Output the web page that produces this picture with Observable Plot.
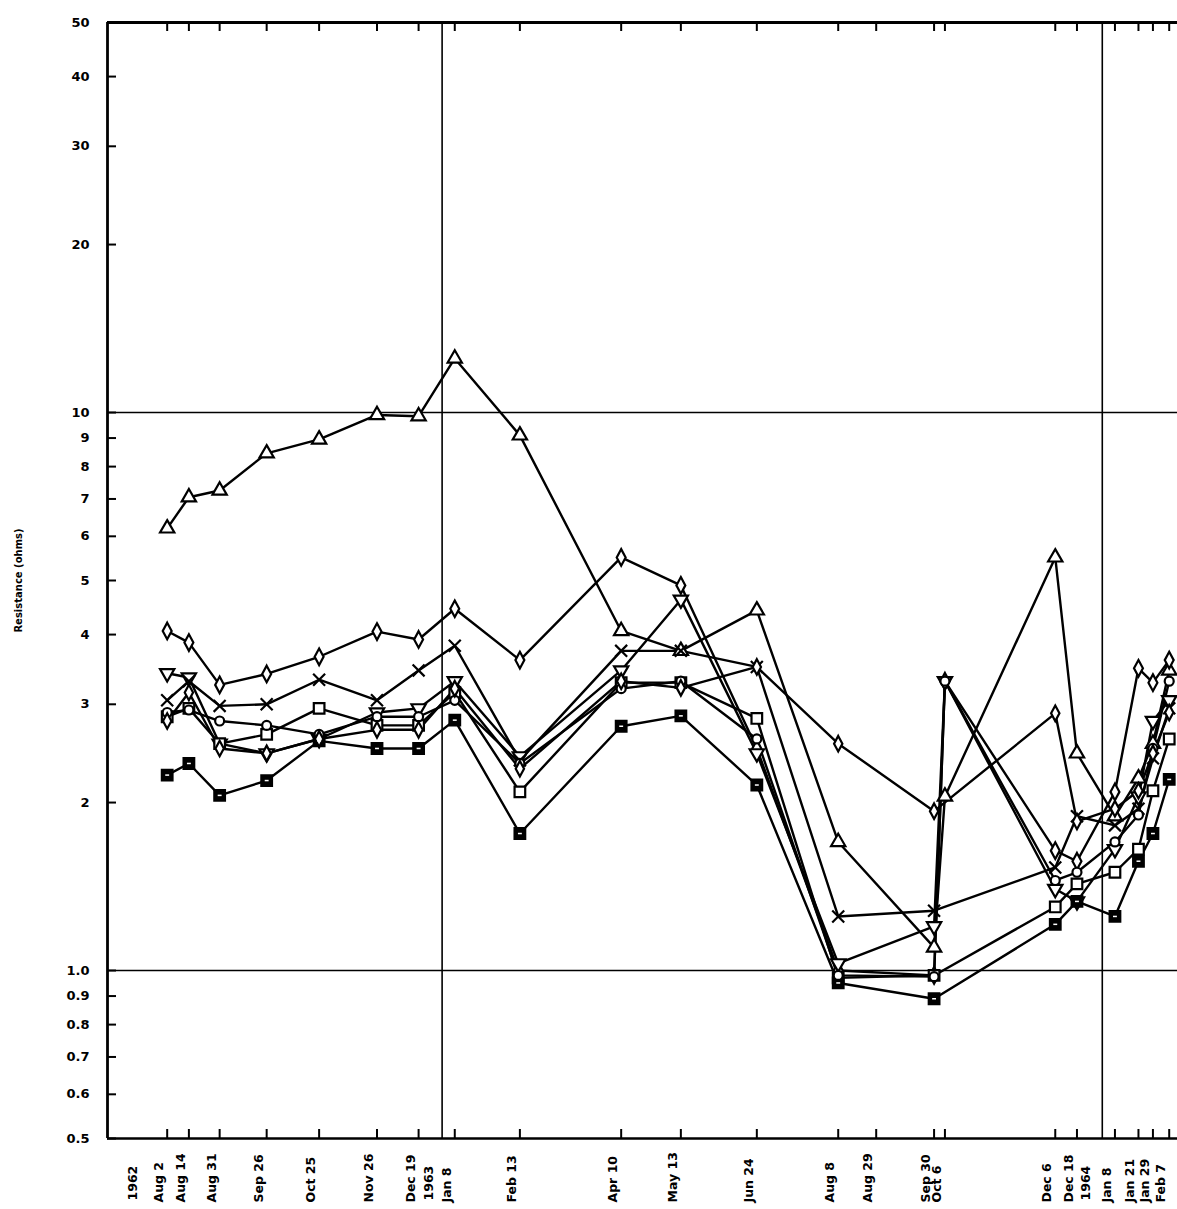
<!DOCTYPE html>
<html><head><meta charset="utf-8">
<script src="https://cdn.jsdelivr.net/npm/d3@7"></script>
<script src="https://cdn.jsdelivr.net/npm/@observablehq/plot@0.6"></script>
<style>
html,body{margin:0;padding:0;background:#fff;}
#chart svg{display:block;}
</style>
</head><body><div id="chart"></div>
<script>
// ---- data ----
const tickDates = ["1962-08-02","1962-08-14","1962-08-31","1962-09-26","1962-10-25","1962-11-26","1962-12-19",
  "1963-01-08","1963-02-13","1963-04-10","1963-05-13","1963-06-24","1963-08-08","1963-08-29","1963-09-30","1963-10-06",
  "1963-12-06","1963-12-18","1964-01-08","1964-01-21","1964-01-29","1964-02-07"];
const tickLabels = ["Aug 2","Aug 14","Aug 31","Sep 26","Oct 25","Nov 26","Dec 19","Jan 8","Feb 13","Apr 10","May 13",
  "Jun 24","Aug 8","Aug 29","Sep 30","Oct 6","Dec 6","Dec 18","Jan 8","Jan 21","Jan 29","Feb 7"];
const yearLabels = ["1962","1963","1964"];
const yearDates = ["1962-08-02","1963-01-01","1964-01-01"];
const yTicks = [0.5,0.6,0.7,0.8,0.9,1,2,3,4,5,6,7,8,9,10,20,30,40,50];
const refLinesY = [1, 10];
const refLinesX = ["1963-01-01","1964-01-01"];

// values per tick date (null = no reading)
const sTriUp   = [6.2,7.05,7.25,8.45,8.95,9.9,9.85,12.5,9.1,4.06,3.74,4.42,1.7,null,1.1,2.05,5.5,2.45,1.89,2.21,2.55,3.45];
const sDiamond = [4.06,3.87,3.25,3.4,3.65,4.05,3.92,4.45,3.6,5.5,4.9,2.5,1.0,null,0.98,3.3,1.64,1.57,2.09,3.48,3.28,3.6];
const sTriDown = [3.41,3.35,2.55,2.45,2.6,2.9,2.95,3.3,2.42,3.45,4.62,2.45,1.03,null,1.2,3.3,1.4,1.33,1.65,2.05,2.8,3.05];
const sCross   = [3.05,3.3,2.98,3.0,3.32,3.05,3.45,3.82,2.38,3.74,3.74,3.5,1.25,null,1.28,null,1.53,1.89,1.82,1.95,2.4,2.95];
const sSquare  = [2.85,2.95,2.55,2.65,2.95,2.75,2.75,3.15,2.09,3.28,3.28,2.83,0.97,null,0.98,null,1.3,1.43,1.5,1.65,2.1,2.6];
const sSqFill  = [2.24,2.35,2.06,2.19,2.58,2.5,2.5,2.81,1.76,2.74,2.86,2.15,0.95,null,0.89,null,1.21,1.33,1.25,1.57,1.76,2.2];
const sCircle  = [2.9,2.93,2.8,2.75,2.65,2.85,2.85,3.05,2.35,3.2,3.3,2.6,0.98,null,0.975,3.3,1.45,1.5,1.7,1.9,2.5,3.3];
const sDiam2   = [2.8,3.15,2.5,2.45,2.6,2.7,2.7,3.2,2.3,3.3,3.21,3.5,2.55,null,1.93,null,2.89,1.85,1.95,2.1,2.45,2.9];

// ---- symbols ----
const sq3 = Math.sqrt(3);
const triDown = {draw(ctx, size){ const y = -Math.sqrt(size/(sq3*3)); ctx.moveTo(0,-y*2); ctx.lineTo(-sq3*y,y); ctx.lineTo(sq3*y,y); ctx.closePath(); }};
const tallDiamond = {draw(ctx, size){ const s = Math.sqrt(size); ctx.moveTo(0,-0.78*s); ctx.lineTo(0.42*s,0); ctx.lineTo(0,0.78*s); ctx.lineTo(-0.42*s,0); ctx.closePath(); }};
const dash = {draw(ctx, size){ const s = Math.sqrt(size); ctx.moveTo(-s/2,0); ctx.lineTo(s/2,0); }};

const seriesDefs = [
  {name:"A", values:sTriUp,   symbol:"triangle", fill:"white", r:5.3},
  {name:"B", values:sDiamond, symbol:tallDiamond, fill:"white", r:6},
  {name:"C", values:sTriDown, symbol:triDown, fill:"white", r:5.3},
  {name:"D", values:sCross,   symbol:"times", fill:"none", r:5.5},
  {name:"E", values:sSquare,  symbol:"square", fill:"white", r:6},
  {name:"F", values:sSqFill,  symbol:"square", fill:"black", r:6},
  {name:"G", values:sCircle,  symbol:"circle", fill:"white", r:4.5},
  {name:"H", values:sDiam2,   symbol:tallDiamond, fill:"white", r:5.6}
];
const parse = d3.utcParse("%Y-%m-%d");
const rows = [];
for (const s of seriesDefs) {
  s.values.forEach((v, i) => { if (v != null) rows.push({series: s.name, date: parse(tickDates[i]), value: v}); });
}
const tDates = tickDates.map(parse);

const W = 1177, H = 1209, mL = 107, mR = 0, mT = 22, mB = 71;
const plotW = W - mL - mR, plotH = H - mT - mB;
const font = "'DejaVu Sans', sans-serif";

const marks = [
  // reference lines
  Plot.ruleY(refLinesY, {y: d => d, stroke: "black", strokeWidth: 1.6}),
  Plot.ruleX(refLinesX.map(parse), {x: d => d, stroke: "black", strokeWidth: 1.6}),
  // frame: left, top, bottom
  Plot.ruleX([parse("1962-06-30")], {x: d => d, stroke: "black", strokeWidth: 2.8}),
  Plot.ruleY([50], {y: d => d, stroke: "black", strokeWidth: 2.8}),
  Plot.ruleY([0.5], {y: d => d, stroke: "black", strokeWidth: 2.4}),
  // inward ticks
  Plot.tickX(tDates, {x: d => d, insetTop: plotH - 9, stroke: "black", strokeWidth: 2}),
  Plot.tickX(tDates, {x: d => d, insetBottom: plotH - 9, stroke: "black", strokeWidth: 2}),
  Plot.tickY(yTicks, {y: d => d, insetRight: plotW - 9, stroke: "black", strokeWidth: 2}),
  // y tick labels
  Plot.text(yTicks, {y: d => d, text: d => d <= 1 ? d.toFixed(1) : String(d), frameAnchor: "left", textAnchor: "end",
    dx: -18, fontSize: 13, fontWeight: "bold", fontFamily: font, fill: "black"}),
  // x tick labels
  Plot.text(tDates, {x: d => d, text: (d, i) => tickLabels[i], rotate: -90, textAnchor: "start", frameAnchor: "bottom",
    dy: 64, dx: -4, fontSize: 12.5, fontWeight: "bold", fontFamily: font, fill: "black"}),
  // year labels
  ...yearLabels.map((lab, i) => Plot.text([lab], {x: () => parse(yearDates[i]), text: d => d, rotate: -90, textAnchor: "start",
    frameAnchor: "bottom", dy: 62, dx: [-30, -9, -12][i], fontSize: 12.5, fontWeight: "bold", fontFamily: font, fill: "black"})),
  // axis title
  Plot.text(["Resistance (ohms)"], {text: d => d, frameAnchor: "left", textAnchor: "middle", dx: -89, rotate: -90, fontSize: 10,
    fontWeight: "bold", fontFamily: font, fill: "black"}),
  // series lines
  Plot.line(rows, {x: "date", y: "value", z: "series", stroke: "black", strokeWidth: 2.4}),
  // markers
  ...seriesDefs.map(s => Plot.dot(rows.filter(r => r.series === s.name), {x: "date", y: "value", symbol: s.symbol, r: s.r,
    fill: s.fill, stroke: "black", strokeWidth: 2.2})),
  Plot.dot(rows.filter(r => r.series === "F"), {x: "date", y: "value", symbol: dash, r: 2.2, stroke: "white", strokeWidth: 1.5})
];

const chart = Plot.plot({
  width: W, height: H,
  marginLeft: mL, marginRight: mR, marginTop: mT, marginBottom: mB,
  x: {type: "utc", domain: [parse("1962-06-30"), new Date(Date.UTC(1964, 1, 11, 14))], axis: null},
  y: {type: "log", domain: [0.5, 50], axis: null},
  style: {background: "white", overflow: "visible"},
  marks
});
document.getElementById("chart").appendChild(chart);
</script>
</body></html>
